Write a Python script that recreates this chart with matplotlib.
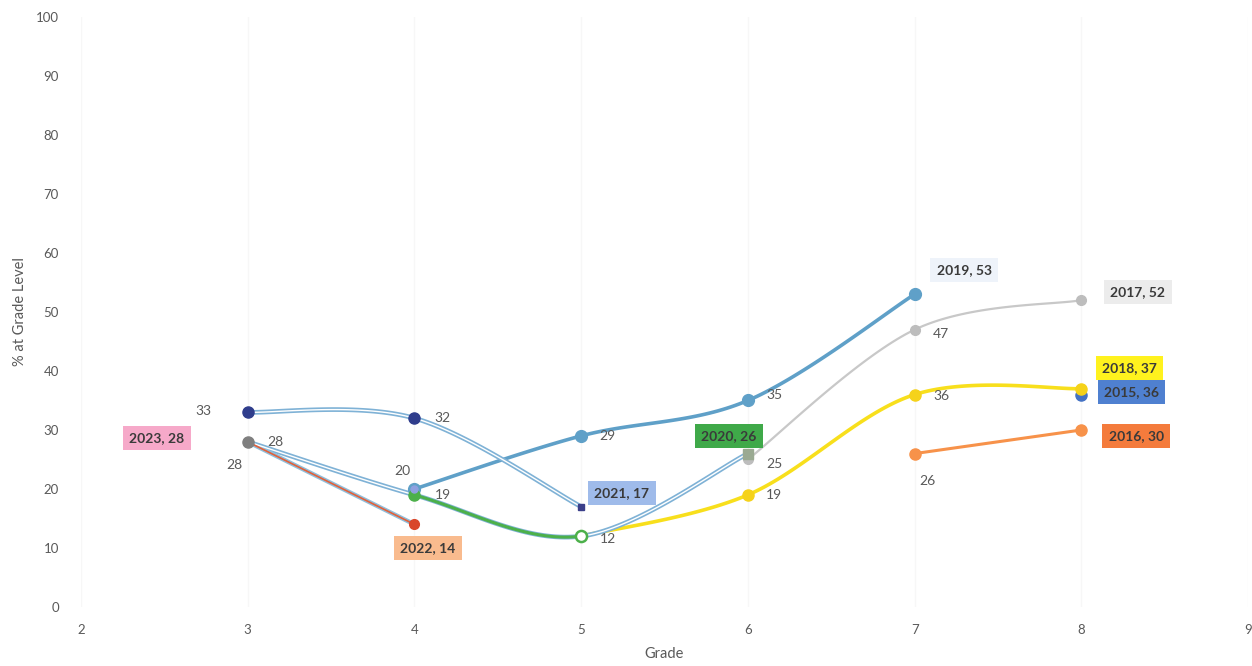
import numpy as np
import matplotlib
matplotlib.use('Agg')
import matplotlib.pyplot as plt

# % of students at grade level, followed by cohort (year = cohort label)
grades_2023 = [3]
pct_2023 = [28]
grades_2022 = [3, 4]
pct_2022 = [28, 14]
grades_2021 = [3, 4, 5]
pct_2021 = [33, 32, 17]
grades_2020 = [3, 4, 5, 6]
pct_2020 = [28, 19, 12, 26]
grades_2019 = [4, 5, 6, 7]
pct_2019 = [20, 29, 35, 53]
grades_2018 = [5, 6, 7, 8]
pct_2018 = [12, 19, 36, 37]
grades_2017 = [6, 7, 8]
pct_2017 = [25, 47, 52]
grades_2016 = [7, 8]
pct_2016 = [26, 30]
grades_2015 = [8]
pct_2015 = [36]

plt.rcParams['font.family'] = ['Lato', 'DejaVu Sans']


def smooth(xs, ys, n=40):
    # Catmull-Rom style curve through the points, like a spreadsheet "smoothed line"
    xs = np.asarray(xs, float)
    ys = np.asarray(ys, float)
    if len(xs) < 3:
        return xs, ys
    px = np.concatenate([[xs[0]], xs, [xs[-1]]])
    py = np.concatenate([[ys[0]], ys, [ys[-1]]])
    out_x, out_y = [], []
    t = np.linspace(0, 1, n)
    for i in range(1, len(px) - 2):
        p0, p1, p2, p3 = [np.array([px[j], py[j]]) for j in (i - 1, i, i + 1, i + 2)]
        c1 = p1 + (p2 - p0) / 6
        c2 = p2 - (p3 - p1) / 6
        b = ((1 - t) ** 3)[:, None] * p1 + (3 * (1 - t) ** 2 * t)[:, None] * c1 \
            + (3 * (1 - t) * t ** 2)[:, None] * c2 + (t ** 3)[:, None] * p2
        out_x.extend(b[:, 0])
        out_y.extend(b[:, 1])
    return np.array(out_x), np.array(out_y)


def hollow(ax, x, y, edge='#7fb2d6', core='white', z=3):
    ax.plot(x, y, color=edge, lw=3.4, zorder=z, solid_capstyle='round')
    ax.plot(x, y, color=core, lw=1.0, zorder=z + 0.1, solid_capstyle='round')


fig = plt.figure(figsize=(12.52, 6.66), dpi=100)
ax = fig.add_axes([0.0647, 0.0886, 0.9321, 0.8859])

# 2019 cohort
sx, sy = smooth(grades_2019, pct_2019)
ax.plot(sx, sy, color='#5fa0c8', lw=2.6, zorder=3)
ax.plot(grades_2019, pct_2019, 'o', color='#5fa0c8', ms=8.5, zorder=6)

# 2017 cohort
sx, sy = smooth(grades_2017, pct_2017)
ax.plot(sx, sy, color='#c8c8c8', lw=1.6, zorder=2)
ax.plot(grades_2017, pct_2017, 'o', color='#bdbdbd', ms=7, zorder=6)

# 2018 cohort
sx, sy = smooth(grades_2018, pct_2018)
ax.plot(sx, sy, color='#f8df1c', lw=2.6, zorder=3)
ax.plot(grades_2018[1:], pct_2018[1:], 'o', color='#f5d21a', ms=8, zorder=6)

# 2016 cohort
ax.plot(grades_2016, pct_2016, color='#f7924a', lw=2.2, zorder=3)
ax.plot(grades_2016, pct_2016, 'o', color='#f7924a', ms=8, zorder=6)

# 2015 cohort
ax.plot(grades_2015, pct_2015, 'o', color='#4472c4', ms=8, zorder=5)

# 2021 cohort
sx, sy = smooth(grades_2021, pct_2021)
hollow(ax, sx, sy)
ax.plot(grades_2021[:2], pct_2021[:2], 'o', color='#2f3d8c', ms=8, zorder=6)
ax.plot(grades_2021[2:], pct_2021[2:], 's', color='#3b3f8a', ms=5, zorder=6)

# 2020 cohort, green between grade 4 and grade 5
sx, sy = smooth(grades_2020, pct_2020)
hollow(ax, sx, sy)
seg = (sx >= 4) & (sx <= 5)
ax.plot(sx[seg], sy[seg], color='#4cb04a', lw=2.2, zorder=4)
ax.plot(grades_2020[1:2], pct_2020[1:2], 'o', color='#4cb04a', ms=8, zorder=6)
ax.plot(grades_2020[2:3], pct_2020[2:3], 'o', mfc='white', mec='#4cb04a', mew=1.8, ms=8, zorder=6)
ax.plot(grades_2020[3:], pct_2020[3:], 's', color='#9aaa92', ms=7, zorder=6)
ax.plot(grades_2019[:1], pct_2019[:1], 'o', color='#8fa0e0', ms=5, zorder=6.5)

# 2022 cohort
ax.plot(grades_2022, pct_2022, color='#8fbfdc', lw=3.2, zorder=3)
ax.plot(grades_2022, pct_2022, color='#e2603a', lw=1.2, zorder=3.2)
ax.plot(grades_2022[1:], pct_2022[1:], 'o', color='#d9472b', ms=7, zorder=6)

# 2023 cohort
ax.plot(grades_2023, pct_2023, 'o', color='#7f7f7f', ms=8, zorder=6)

# point value labels
lab = dict(color='#595959', fontsize=10, zorder=7)
ax.text(2.78, pct_2021[0] + 0.3, f'{pct_2021[0]}', ha='right', va='center', **lab)
ax.text(3.12, pct_2020[0], f'{pct_2020[0]}', ha='left', va='center', **lab)
ax.text(2.92, pct_2022[0] - 3.9, f'{pct_2022[0]}', ha='center', va='center', **lab)
ax.text(4.12, pct_2021[1], f'{pct_2021[1]}', ha='left', va='center', **lab)
ax.text(3.93, pct_2019[0] + 3.0, f'{pct_2019[0]}', ha='center', va='center', **lab)
ax.text(4.12, pct_2020[1] - 0.1, f'{pct_2020[1]}', ha='left', va='center', **lab)
ax.text(5.11, pct_2019[1], f'{pct_2019[1]}', ha='left', va='center', **lab)
ax.text(5.11, pct_2020[2] - 0.4, f'{pct_2020[2]}', ha='left', va='center', **lab)
ax.text(6.11, pct_2019[2] + 0.9, f'{pct_2019[2]}', ha='left', va='center', **lab)
ax.text(6.11, pct_2017[0] - 0.7, f'{pct_2017[0]}', ha='left', va='center', **lab)
ax.text(6.11, pct_2018[1] - 0.1, f'{pct_2018[1]}', ha='left', va='center', **lab)
ax.text(7.11, pct_2017[1] - 0.8, f'{pct_2017[1]}', ha='left', va='center', **lab)
ax.text(7.11, pct_2018[2] - 0.3, f'{pct_2018[2]}', ha='left', va='center', **lab)
ax.text(7.08, pct_2016[0] - 4.6, f'{pct_2016[0]}', ha='center', va='center', **lab)

# cohort end labels in coloured boxes
boxes = [
    (2.456, 28.6, f'2023, {pct_2023[-1]}', '#f6a9c9'),
    (4.08, 10.0, f'2022, {pct_2022[-1]}', '#f9bb8e'),
    (5.245, 19.3, f'2021, {pct_2021[-1]}', '#9fbbea'),
    (5.887, 29.0, f'2020, {pct_2020[-1]}', '#3fa949'),
    (7.297, 57.1, f'2019, {pct_2019[-1]}', '#eef3fa'),
    (8.34, 53.4, f'2017, {pct_2017[-1]}', '#ececec'),
    (8.29, 40.5, f'2018, {pct_2018[-1]}', '#fff21e'),
    (8.30, 36.4, f'2015, {pct_2015[-1]}', '#4f80d0'),
    (8.33, 29.0, f'2016, {pct_2016[-1]}', '#f47b3c'),
]
for bx, by, txt, fc in boxes:
    ax.text(bx, by, txt, ha='center', va='center', fontsize=10, fontweight='bold',
            color='#3a3a3a', zorder=8,
            bbox=dict(boxstyle='square,pad=0.45', fc=fc, ec='none'))

ax.set_xlim(2, 9)
ax.set_ylim(0, 100)
ax.set_xticks(range(2, 10))
ax.set_yticks(range(0, 101, 10))
ax.tick_params(length=0, labelsize=9.5, colors='#595959', pad=12)
ax.tick_params(axis='y', pad=16)
ax.grid(axis='x', color='#f7f7f7', lw=1)
for s in ax.spines.values():
    s.set_visible(False)

ax.set_xlabel('Grade', fontsize=10.5, color='#595959', labelpad=8)
ax.set_ylabel('% at Grade Level', fontsize=10.5, color='#595959', labelpad=6)

fig.savefig('out.png', dpi=100)
